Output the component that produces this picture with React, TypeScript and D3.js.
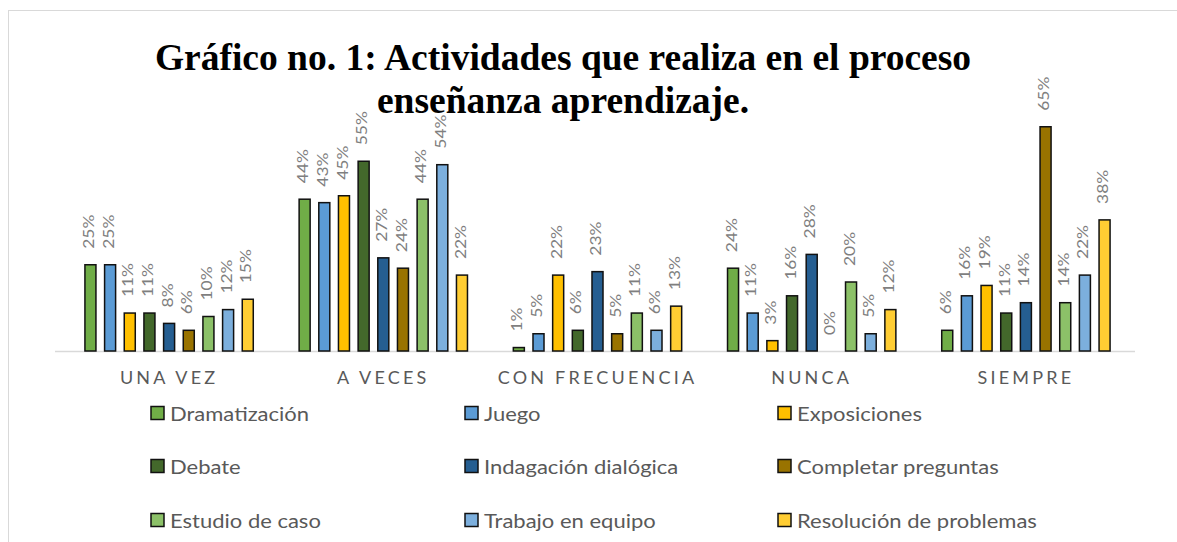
import React from "react";
import * as d3 from "d3";

const categories = ["UNA VEZ", "A VECES", "CON FRECUENCIA", "NUNCA", "SIEMPRE"];
const seriesNames = [
  "Dramatización",
  "Juego",
  "Exposiciones",
  "Debate",
  "Indagación dialógica",
  "Completar preguntas",
  "Estudio de caso",
  "Trabajo en equipo",
  "Resolución de problemas",
];
const seriesColors = [
  "#70AD47",
  "#5B9BD5",
  "#FFC000",
  "#43682B",
  "#255E91",
  "#997300",
  "#8CC168",
  "#7CAFDD",
  "#FFCD33",
];
// values per series, in category order
const dramatizacion = [0.25, 0.44, 0.01, 0.24, 0.06];
const juego = [0.25, 0.43, 0.05, 0.11, 0.16];
const exposiciones = [0.11, 0.45, 0.22, 0.03, 0.19];
const debate = [0.11, 0.55, 0.06, 0.16, 0.11];
const indagacion = [0.08, 0.27, 0.23, 0.28, 0.14];
const completar = [0.06, 0.24, 0.05, 0.0, 0.65];
const estudio = [0.1, 0.44, 0.11, 0.2, 0.14];
const trabajo = [0.12, 0.54, 0.06, 0.05, 0.22];
const resolucion = [0.15, 0.22, 0.13, 0.12, 0.38];
const seriesValues = [
  dramatizacion,
  juego,
  exposiciones,
  debate,
  indagacion,
  completar,
  estudio,
  trabajo,
  resolucion,
];
const titleLines = [
  "Gráfico no. 1: Actividades que realiza en el proceso",
  "enseñanza aprendizaje.",
];

const W = 1177;
const H = 542;
const SANS = "Lato, 'Open Sans', sans-serif";

export default function App() {
  const x0 = d3.scaleBand<string>().domain(categories).range([62, 1133]);
  const groupW = 177;
  const x1 = d3
    .scaleBand<string>()
    .domain(seriesNames)
    .range([-groupW / 2, groupW / 2])
    .paddingInner(0.44)
    .paddingOuter(0.22);
  const y = d3.scaleLinear().domain([0, 0.7]).range([351, 109.5]);
  const fmt = d3.format(".0%");
  const bw = x1.bandwidth();

  const legendCols = [151, 465, 778];
  const legendRows = [413, 466, 520];

  return (
    <svg
      width={W}
      height={H}
      style={{ position: "absolute", left: 0, top: 0, background: "#fff" }}
    >
      <rect x={0} y={0} width={W} height={H} fill="#fff" />
      <rect
        x={8.5}
        y={10.5}
        width={W + 10}
        height={H + 10}
        fill="none"
        stroke="#d9d9d9"
        strokeWidth={1}
      />
      {/* Title */}
      {titleLines.map((t, i) => (
        <text
          key={t}
          x={563}
          y={70 + i * 43}
          textAnchor="middle"
          fontFamily="'Liberation Serif', 'Times New Roman', serif"
          fontWeight="bold"
          fontSize={37.5}
          fill="#000"
        >
          {t}
        </text>
      ))}
      {/* baseline */}
      <line x1={55} x2={1135} y1={351.5} y2={351.5} stroke="#d9d9d9" strokeWidth={1.5} />
      {/* bars */}
      {categories.map((c, ci) => {
        const cx = (x0(c) as number) + x0.bandwidth() / 2;
        return (
          <g key={c}>
            {seriesNames.map((s, si) => {
              const v = seriesValues[si][ci];
              const bx = cx + (x1(s) as number);
              const top = y(v);
              return (
                <g key={s}>
                  {v > 0 && (
                    <rect
                      x={bx}
                      y={top}
                      width={bw}
                      height={y(0) - top}
                      fill={seriesColors[si]}
                      stroke="#111"
                      strokeWidth={1.5}
                    />
                  )}
                  <text
                    transform={`translate(${bx + bw / 2 - 1.5},${top - 16}) rotate(-90) scale(1.2,1)`}
                    dy="0.35em"
                    fontFamily={SANS}
                    fontSize={14.5}
                    fill="#7f7f7f"
                  >
                    {fmt(v)}
                  </text>
                </g>
              );
            })}
            <text
              x={cx}
              y={384}
              textAnchor="middle"
              fontFamily={SANS}
              fontSize={18}
              letterSpacing={3.2}
              fill="#595959"
            >
              {c}
            </text>
          </g>
        );
      })}
      {/* legend */}
      {seriesNames.map((s, i) => {
        const col = i % 3;
        const row = Math.floor(i / 3);
        const lx = legendCols[col];
        const ly = legendRows[row];
        return (
          <g key={s}>
            <rect
              x={lx}
              y={ly - 6.5}
              width={13}
              height={13}
              fill={seriesColors[i]}
              stroke="#111"
              strokeWidth={1.5}
            />
            <text
              transform={`translate(${lx + 19},${ly + 7.5}) scale(1.1,1)`}
              fontFamily={SANS}
              fontSize={20}
              fill="#595959"
            >
              {s}
            </text>
          </g>
        );
      })}
    </svg>
  );
}
